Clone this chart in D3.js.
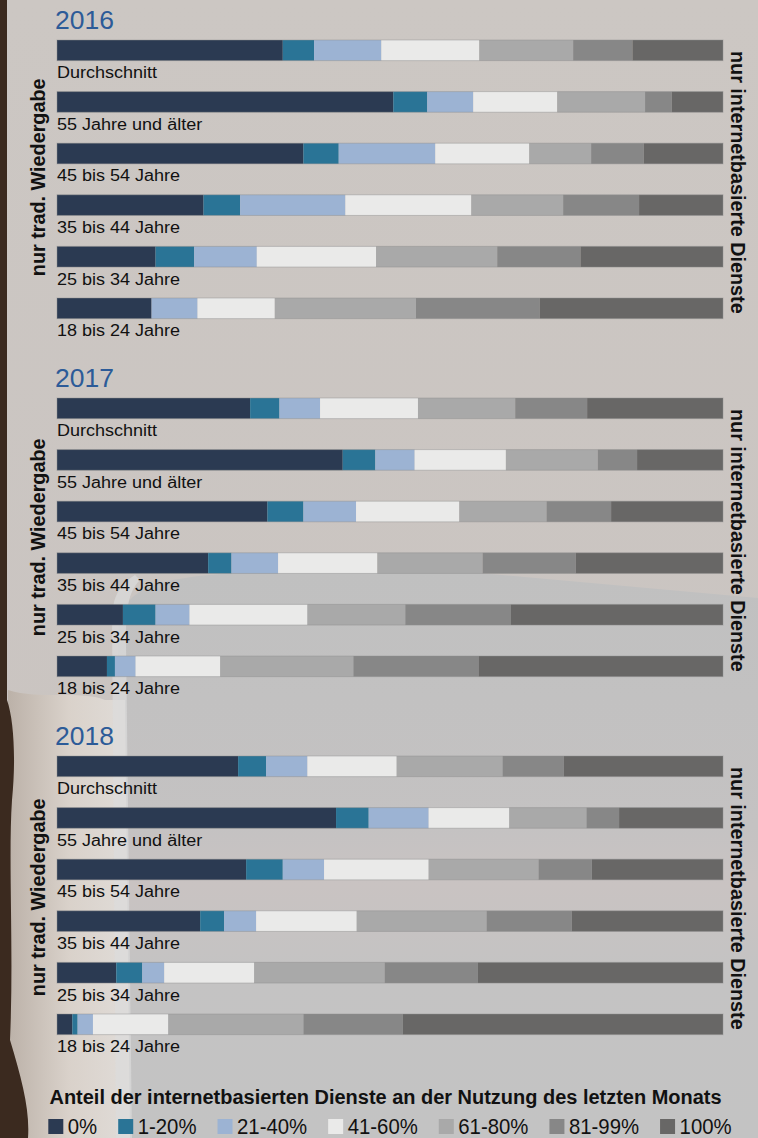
<!DOCTYPE html>
<html><head><meta charset="utf-8">
<script src="https://cdn.jsdelivr.net/npm/d3@7"></script>
<style>html,body{margin:0;padding:0;background:#cac5c1;}svg{display:block;}</style>
</head><body>
<svg id="chart" width="758" height="1138"></svg>
<script>
const years = ["2016", "2017", "2018"];
const groups = ["Durchschnitt", "55 Jahre und älter", "45 bis 54 Jahre", "35 bis 44 Jahre", "25 bis 34 Jahre", "18 bis 24 Jahre"];
const shareLabels = ["0%", "1-20%", "21-40%", "41-60%", "61-80%", "81-99%", "100%"];
const shareColors = ["#2b3a52", "#2a7496", "#9cb3d3", "#eaeae9", "#a9a9a9", "#878787", "#686766"];
const values2016 = [
  [33.9, 4.7, 10.1, 14.7, 14.1, 8.9, 13.6],
  [50.5, 5.1, 6.9, 12.6, 13.2, 4.0, 7.7],
  [37.0, 5.3, 14.5, 14.1, 9.3, 7.9, 11.9],
  [22.0, 5.5, 15.8, 18.9, 13.8, 11.4, 12.6],
  [14.8, 5.8, 9.4, 17.9, 18.2, 12.5, 21.4],
  [14.2, 0.0, 6.9, 11.6, 21.2, 18.6, 27.5]
];
const values2017 = [
  [29.0, 4.4, 6.1, 14.7, 14.6, 10.8, 20.4],
  [42.9, 4.9, 5.9, 13.7, 13.8, 5.9, 12.9],
  [31.6, 5.4, 7.9, 15.5, 13.1, 9.7, 16.8],
  [22.7, 3.5, 7.0, 14.9, 15.8, 14.0, 22.1],
  [9.9, 4.9, 5.1, 17.7, 14.7, 15.8, 31.9],
  [7.5, 1.2, 3.1, 12.7, 20.0, 18.8, 36.7]
];
const values2018 = [
  [27.2, 4.2, 6.2, 13.4, 15.9, 9.2, 23.9],
  [41.9, 4.9, 9.0, 12.1, 11.6, 4.9, 15.6],
  [28.4, 5.5, 6.2, 15.7, 16.5, 8.0, 19.7],
  [21.5, 3.6, 4.8, 15.1, 19.5, 12.8, 22.7],
  [8.9, 3.9, 3.3, 13.5, 19.6, 14.0, 36.8],
  [2.3, 0.8, 2.3, 11.3, 20.3, 14.9, 48.1]
];
const yearValues = [values2016, values2017, values2018];
const leftTitle = "nur trad. Wiedergabe";
const rightTitle = "nur internetbasierte Dienste";
const legendTitle = "Anteil der internetbasierten Dienste an der Nutzung des letzten Monats";

const svg = d3.select("#chart");
const W = 758, H = 1138;
const font = "'Liberation Sans', Arial, Helvetica, sans-serif";

// ---- background (approximation of the photo) ----
const bg = svg.append("g");
const defs = svg.append("defs");
const g1 = defs.append("linearGradient").attr("id", "bgTop").attr("x1", 0).attr("y1", 0).attr("x2", 0).attr("y2", 1);
g1.append("stop").attr("offset", "0").attr("stop-color", "#ccc7c3");
g1.append("stop").attr("offset", "1").attr("stop-color", "#c9c3c0");
bg.append("rect").attr("width", W).attr("height", H).attr("fill", "url(#bgTop)");
const g2 = defs.append("linearGradient").attr("id", "bgLow").attr("x1", 0).attr("y1", 0).attr("x2", 0).attr("y2", 1);
g2.append("stop").attr("offset", "0").attr("stop-color", "#c0c0c0");
g2.append("stop").attr("offset", "0.45").attr("stop-color", "#c4c2c2");
g2.append("stop").attr("offset", "0.55").attr("stop-color", "#c9c3c2");
g2.append("stop").attr("offset", "0.7").attr("stop-color", "#c4c3c3");
g2.append("stop").attr("offset", "1").attr("stop-color", "#c3c3c3");
bg.append("path").attr("d", "M118,640 C118,590 140,572 300,572 L480,573 L758,598 L758,1138 L118,1138 Z").attr("fill", "url(#bgLow)");
const g3 = defs.append("linearGradient").attr("id", "bgHand").attr("x1", 0).attr("y1", 0).attr("x2", 1).attr("y2", 0);
g3.append("stop").attr("offset", "0").attr("stop-color", "#b9aea4");
g3.append("stop").attr("offset", "0.5").attr("stop-color", "#dcd4cc");
g3.append("stop").attr("offset", "1").attr("stop-color", "#e4e0dc");
bg.append("path").attr("d", "M8,690 C40,700 80,690 105,700 L125,700 L130,1138 L8,1138 Z").attr("fill", "url(#bgHand)").attr("opacity", 0.85);
bg.append("path").attr("d", "M112,620 C112,600 118,585 135,575 L140,580 C128,592 126,610 126,640 L132,1138 L116,1138 Z").attr("fill", "#dcdcdc").attr("opacity", 0.7);
bg.append("path").attr("d", "M0,0 L7,0 L7,700 C14,720 16,760 12,800 C8,860 14,950 10,1040 C22,1080 30,1110 28,1138 L0,1138 Z").attr("fill", "#3b2a1f");

// ---- scales ----
const x = d3.scaleLinear().domain([0, 100]).range([57, 723]).clamp(true);
const panelTop = d3.scaleLinear().domain([0, 1]).range([40, 398]);
const step = 51.6;
const stack = d3.stack().keys(d3.range(shareLabels.length));

years.forEach((yr, i) => {
  const top = panelTop(i);
  const y = d3.scaleBand().domain(groups)
    .range([top - 0.3 * step, top - 0.3 * step + 6 * step])
    .paddingInner(0.6).paddingOuter(0.3);
  const g = svg.append("g");
  const vals = yearValues[i];
  const series = stack(vals);

  g.append("text").attr("x", 55).attr("y", top - 10.7)
    .attr("font-family", font).attr("font-size", 26.5).attr("fill", "#2c5b98").text(yr);

  series.forEach((s, k) => {
    g.append("g").selectAll("rect").data(s).join("rect")
      .attr("x", d => x(d[0]))
      .attr("width", d => Math.max(0, x(d[1]) - x(d[0])))
      .attr("y", (d, j) => y(groups[j]))
      .attr("height", y.bandwidth())
      .attr("fill", shareColors[k]);
  });
  g.append("g").selectAll("rect").data(groups).join("rect")
    .attr("x", x(0)).attr("width", x(100) - x(0))
    .attr("y", d => y(d)).attr("height", y.bandwidth())
    .attr("fill", "none").attr("stroke", "#8e8e8e").attr("stroke-opacity", 0.45).attr("stroke-width", 1);

  g.append("g").selectAll("text").data(groups).join("text")
    .attr("transform", d => `translate(57,${y(d) + y.bandwidth() + 17.6}) scale(1.14,1)`)
    .attr("font-family", font).attr("font-size", 15.8).attr("fill", "#111")
    .text(d => d);

  const mid = (y(groups[0]) + y(groups[5]) + y.bandwidth()) / 2;
  g.append("text")
    .attr("transform", `translate(44.5,${mid - 2 + i * 2}) rotate(-90)`)
    .attr("text-anchor", "middle").attr("font-family", font).attr("font-weight", "bold")
    .attr("font-size", 19.8).attr("fill", "#111").text(leftTitle);
  g.append("text")
    .attr("transform", `translate(731,${mid + 3}) rotate(90)`)
    .attr("text-anchor", "middle").attr("font-family", font).attr("font-weight", "bold")
    .attr("font-size", 19.8).attr("fill", "#111").text(rightTitle);
});

// ---- legend ----
const lg = svg.append("g");
lg.append("text").attr("x", 49.5).attr("y", 1103.5)
  .attr("font-family", font).attr("font-weight", "bold").attr("font-size", 19.5)
  .attr("textLength", 672).attr("lengthAdjust", "spacingAndGlyphs")
  .attr("fill", "#111").text(legendTitle);
let lx = 48.3;
shareLabels.forEach((lab, k) => {
  lg.append("rect").attr("x", lx).attr("y", 1119).attr("width", 15).attr("height", 15).attr("fill", shareColors[k]);
  const t = lg.append("text").attr("transform", `translate(${lx + 19.5},1133.5) scale(0.925,1)`)
    .attr("font-family", font).attr("font-size", 22).attr("fill", "#111").text(lab);
  lx += 19.5 + t.node().getComputedTextLength() * 0.925 + 21;
});
</script>
</body></html>
